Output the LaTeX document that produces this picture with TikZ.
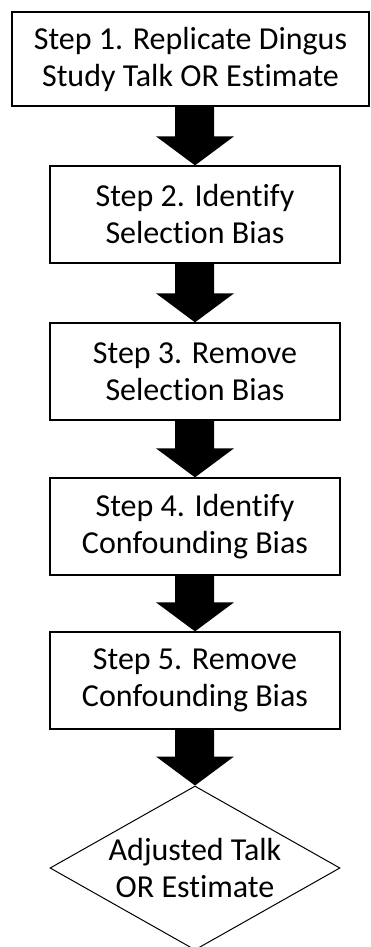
\documentclass[tikz,border=0pt]{standalone}
\usepackage{fontspec}
\setmainfont{Carlito}[Ligatures=NoCommon]
\usetikzlibrary{shapes.geometric}
\newcommand{\blockarr}[2]{%
  \fill[blockarrow] ([xshift=-20pt]#2.north |- #1.south) -- ([xshift=19pt]#2.north |- #1.south)
    -- ([xshift=19pt,yshift=29pt]#2.north) -- ([xshift=39pt,yshift=29pt]#2.north)
    -- (#2.north) -- ([xshift=-39pt,yshift=29pt]#2.north)
    -- ([xshift=-20pt,yshift=29pt]#2.north) -- cycle;}
\begin{document}
\begin{tikzpicture}[x=1pt,y=-1pt,
  stepbox/.style={draw=black, line width=1.3pt, rectangle, inner sep=0pt,
    minimum width=290pt, minimum height=97pt, align=center,
    font=\fontsize{32}{37}\selectfont},
  endbox/.style={draw=black, line width=1pt, diamond, inner sep=0pt, aspect=1.77,
    minimum width=290pt, minimum height=164pt, align=center,
    font=\fontsize{32}{37}\selectfont},
  blockarrow/.style={fill=black, draw=none}]
\useasboundingbox (0,0) rectangle (370,947);
\node[stepbox, minimum width=357pt, minimum height=94pt] (s1) at (190.5,59) {Step 1. Replicate Dingus\\Study Talk OR Estimate};
\node[stepbox] (s2) at (195,214.5) {Step 2. Identify\\Selection Bias};
\node[stepbox] (s3) at (195,371.5) {Step 3. Remove\\Selection Bias};
\node[stepbox] (s4) at (195,526.5) {Step 4. Identify\\Confounding Bias};
\node[stepbox] (s5) at (195,680.5) {Step 5. Remove\\Confounding Bias};
\node[endbox] (e) at (195,868) {Adjusted Talk\\OR Estimate};
\blockarr{s1}{s2}
\blockarr{s2}{s3}
\blockarr{s3}{s4}
\blockarr{s4}{s5}
\blockarr{s5}{e}
\end{tikzpicture}
\end{document}
